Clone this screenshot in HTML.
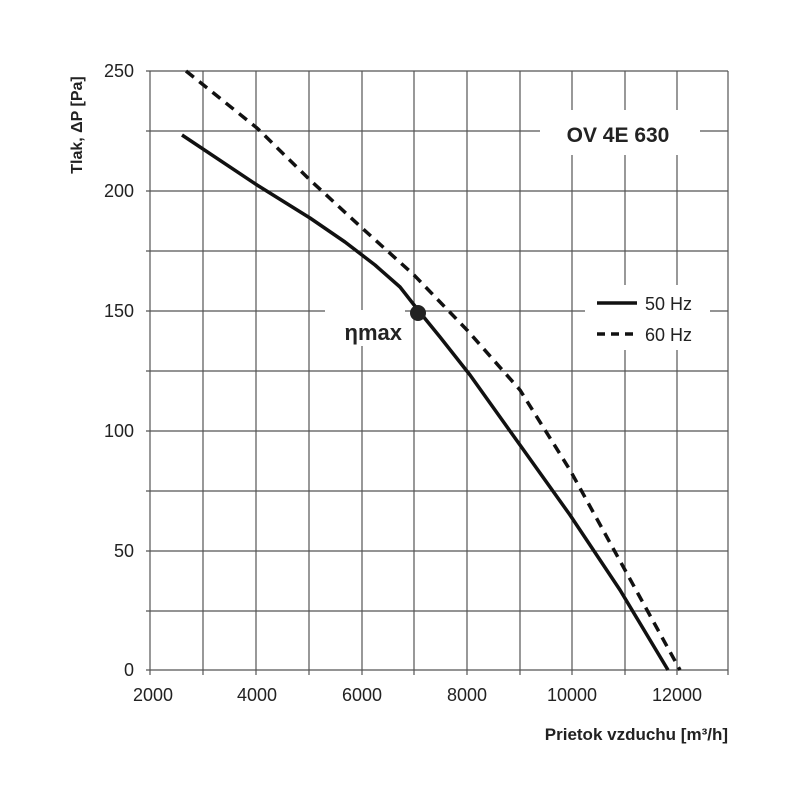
<!DOCTYPE html>
<html><head><style>body{margin:0;background:#fff}svg{display:block}</style></head><body>
<svg width="800" height="800" xmlns="http://www.w3.org/2000/svg" font-family="Liberation Sans, sans-serif">
<g stroke="#555" stroke-width="1.2">
<line x1="146" y1="71" x2="728" y2="71"/><line x1="146" y1="131" x2="728" y2="131"/><line x1="146" y1="191" x2="728" y2="191"/><line x1="146" y1="251" x2="728" y2="251"/><line x1="146" y1="311" x2="728" y2="311"/><line x1="146" y1="371" x2="728" y2="371"/><line x1="146" y1="431" x2="728" y2="431"/><line x1="146" y1="491" x2="728" y2="491"/><line x1="146" y1="551" x2="728" y2="551"/><line x1="146" y1="611" x2="728" y2="611"/><line x1="146" y1="670" x2="728" y2="670"/>
<line x1="150" y1="71" x2="150" y2="675"/><line x1="203" y1="71" x2="203" y2="675"/><line x1="256" y1="71" x2="256" y2="675"/><line x1="309" y1="71" x2="309" y2="675"/><line x1="362" y1="71" x2="362" y2="675"/><line x1="414" y1="71" x2="414" y2="675"/><line x1="467" y1="71" x2="467" y2="675"/><line x1="520" y1="71" x2="520" y2="675"/><line x1="572" y1="71" x2="572" y2="675"/><line x1="625" y1="71" x2="625" y2="675"/><line x1="677" y1="71" x2="677" y2="675"/><line x1="728" y1="71" x2="728" y2="675"/>
</g>
<rect x="540" y="110" width="160" height="45" fill="#fff"/>
<rect x="585" y="285" width="125" height="65" fill="#fff"/>
<rect x="325" y="310" width="80" height="36" fill="#fff"/>
<polyline fill="none" stroke="#111" stroke-width="3.5" stroke-linejoin="round" points="182,135 257,185 310,218 345,242 375,265 400,287 418,310 440,337 470,375 520,445 570,515 620,590 668,670"/>
<polyline fill="none" stroke="#111" stroke-width="3.5" stroke-dasharray="10,7" points="186,71 257,128 310,180 362,228 414,275 467,330 520,390 570,470 625,570 680,670"/>
<circle cx="418" cy="313" r="8" fill="#222"/>
<text x="402" y="340" font-size="22" font-weight="bold" text-anchor="end" fill="#222">ηmax</text>
<text x="618" y="142" font-size="21" font-weight="bold" text-anchor="middle" fill="#222">OV 4E 630</text>
<line x1="597" y1="303" x2="637" y2="303" stroke="#111" stroke-width="3.5"/>
<line x1="597" y1="334" x2="637" y2="334" stroke="#111" stroke-width="3.5" stroke-dasharray="8,6"/>
<text x="645" y="310" font-size="18" fill="#222">50 Hz</text>
<text x="645" y="341" font-size="18" fill="#222">60 Hz</text>
<g font-size="18" fill="#222" text-anchor="end">
<text x="134" y="77">250</text><text x="134" y="197">200</text><text x="134" y="317">150</text><text x="134" y="437">100</text><text x="134" y="557">50</text><text x="134" y="676">0</text>
</g>
<g font-size="18" fill="#222" text-anchor="middle">
<text x="153" y="701">2000</text><text x="257" y="701">4000</text><text x="362" y="701">6000</text><text x="467" y="701">8000</text><text x="572" y="701">10000</text><text x="677" y="701">12000</text>
</g>
<text x="728" y="740" font-size="17" font-weight="bold" text-anchor="end" fill="#222">Prietok vzduchu  [m³/h]</text>
<text transform="translate(82,125) rotate(-90)" font-size="16" font-weight="bold" text-anchor="middle" fill="#222">Tlak, ΔP [Pa]</text>
</svg>
</body></html>
